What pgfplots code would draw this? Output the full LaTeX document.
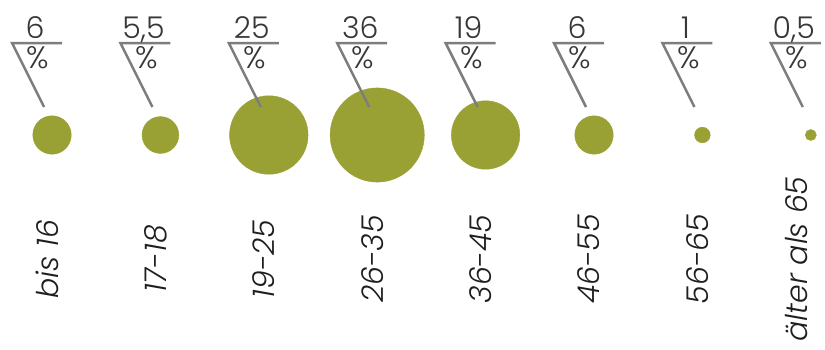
\documentclass[border=0pt]{standalone}
\usepackage{pgfplots}
\pgfplotsset{compat=1.18}
\usepackage{pgfplotstable}
\usepackage{fontspec}
\setmainfont{Poppins}[UprightFont=* Light, ItalicFont=* Light Italic]
\definecolor{bubble}{RGB}{153,161,52}
\definecolor{linegray}{RGB}{125,125,125}
\definecolor{txtgray}{RGB}{55,55,55}
\definecolor{labblack}{RGB}{30,30,30}
\pgfdeclareplotmark{leader}{%
  \pgfsetlinewidth{2.5pt}%
  \pgfsetmiterjoin
  \pgfpathmoveto{\pgfpoint{10pt}{92pt}}%
  \pgfpathlineto{\pgfpoint{-40pt}{92pt}}%
  \pgfpathlineto{\pgfpoint{-8pt}{28pt}}%
  \pgfusepathqstroke}
\pgfplotstableread{
x y v lab cat ls
0 135 6 6 {bis 16} 5
1 135 5.5 {5,5} {17-18} 5
2 135 25 25 {19-25} 5
3 135 36 36 {26-35} 5
4 135 19 19 {36-45} 5
5 135 6 6 {46-55} 5
6 135 1 1 {56-65} 5
7 135 0.5 {0,5} {älter als 65} 14
}\data
\begin{document}
\begin{tikzpicture}
\begin{axis}[name=ax,
  width=825pt, height=349pt, scale only axis,
  xmin=-0.48, xmax=7.131, ymin=0, ymax=349, y dir=reverse,
  hide axis, clip=false]
% bubbles (area proportional to value)
\addplot[scatter, only marks, mark=*, draw=bubble, fill=bubble,
  point meta=\thisrow{v},
  scatter/use mapped color={fill=bubble, draw=bubble},
  visualization depends on={7.85*sqrt(\thisrow{v}) \as \rad},
  scatter/@pre marker code/.append style={/tikz/mark size=\rad pt}]
  table[x=x, y=y] {\data};
% leader lines with percent sign
\addplot[only marks, mark=leader, draw=linegray,
  mark options={draw=linegray},
  nodes near coords={\%},
  every node near coord/.style={anchor=base, xshift=-14pt, yshift=67pt, text=txtgray,
    font=\fontsize{31}{32}\selectfont}]
  table[x=x, y=y] {\data};
% value labels
\addplot[draw=none, mark=none, only marks,
  point meta=explicit symbolic,
  nodes near coords,
  every node near coord/.style={anchor=base, xshift=-17pt, yshift=97pt, text=txtgray,
    font=\fontsize{30}{30}\selectfont}]
  table[x=x, y=y, meta=lab] {\data};
% category labels
\addplot[draw=none, mark=none, only marks,
  point meta=explicit symbolic,
  visualization depends on={\thisrow{ls} \as \lsh},
  nodes near coords,
  every node near coord/.style={anchor=center, rotate=90, xshift=-124pt, yshift=\lsh pt, text=labblack,
    font=\itshape\fontsize{30}{31}\selectfont}]
  table[x=x, y=y, meta=cat] {\data};
\end{axis}
\pgfresetboundingbox
\path (ax.south west) rectangle (ax.north east);
\end{tikzpicture}
\end{document}
